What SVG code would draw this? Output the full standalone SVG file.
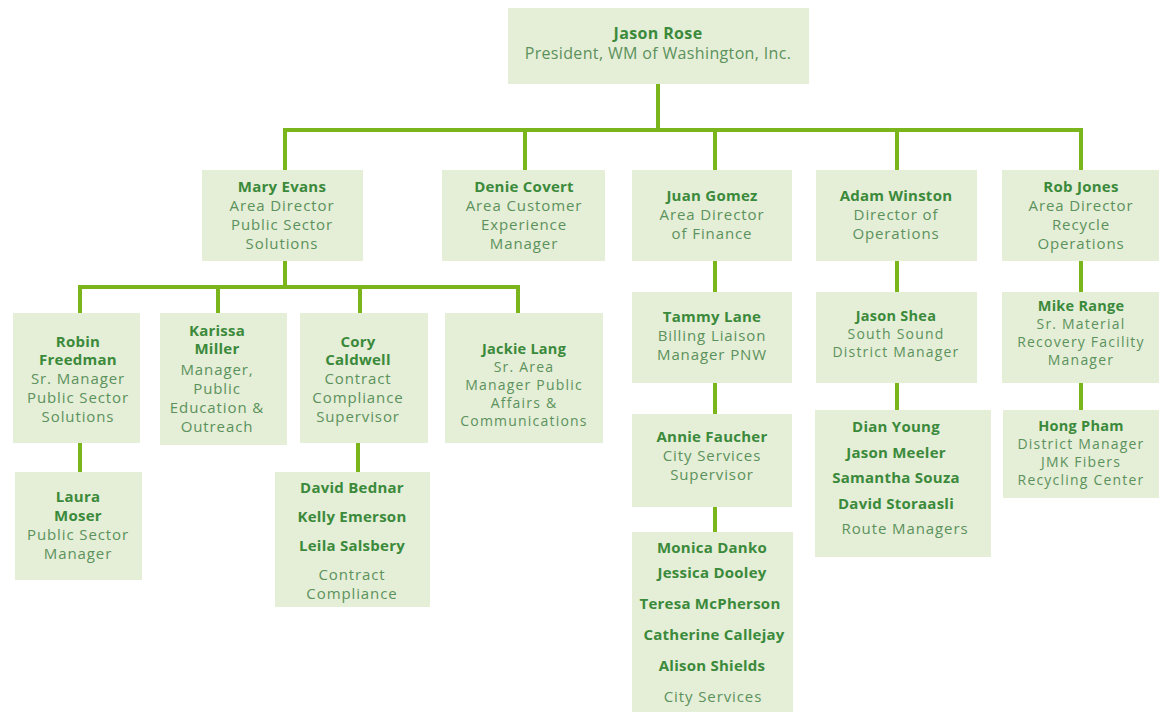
<svg xmlns="http://www.w3.org/2000/svg" width="1159" height="712" viewBox="0 0 1159 712">
<style>
.box{fill:#e5eed7}
.ln{stroke:#7ab51c;stroke-width:4;fill:none;stroke-linecap:square}
text{font-family:"Open Sans","Liberation Sans",sans-serif;font-size:15px;text-anchor:middle;dominant-baseline:central}
.n{font-weight:bold;fill:#3b8a3b;letter-spacing:0.25px}
.t{fill:#5b925c;letter-spacing:0.9px}
.big{font-size:16px;letter-spacing:0.35px}
.tight .n{font-size:14.5px}
.tight .t{font-size:14px;letter-spacing:1.2px}
</style>
<rect width="1159" height="712" fill="#ffffff"/>
<g id="connectors">
<path class="ln" d="M658 84V130M285 130H1081M285 130V170M525 130V170M715 130V170M897 130V170M1081 130V170"/>
<path class="ln" d="M285 261V287M80 287H518M80 287V313M218 287V313M360 287V313M518 287V313"/>
<path class="ln" d="M80 443V472M358 443V472"/>
<path class="ln" d="M715 261V292M715 383V414M715 507V532"/>
<path class="ln" d="M897 261V292M897 383V410"/>
<path class="ln" d="M1081 261V292M1081 383V410"/>
</g>
<g id="jason-rose"><rect class="box" x="508" y="8" width="301" height="76"/>
<text class="n big" x="658" y="33">Jason Rose</text><text class="t big" x="658" y="53">President, WM of Washington, Inc.</text></g>
<g id="mary-evans"><rect class="box" x="202" y="170" width="161" height="91"/>
<text class="n" x="282" y="186">Mary Evans</text><text class="t" x="282" y="205">Area Director</text><text class="t" x="282" y="224">Public Sector</text><text class="t" x="282" y="243">Solutions</text></g>
<g id="denie-covert"><rect class="box" x="442" y="170" width="163" height="91"/>
<text class="n" x="524" y="186">Denie Covert</text><text class="t" x="524" y="205">Area Customer</text><text class="t" x="524" y="224">Experience</text><text class="t" x="524" y="243">Manager</text></g>
<g id="juan-gomez"><rect class="box" x="632" y="170" width="160" height="91"/>
<text class="n" x="712" y="195">Juan Gomez</text><text class="t" x="712" y="214">Area Director</text><text class="t" x="712" y="233">of Finance</text></g>
<g id="adam-winston"><rect class="box" x="816" y="170" width="161" height="91"/>
<text class="n" x="896" y="195">Adam Winston</text><text class="t" x="896" y="214">Director of</text><text class="t" x="896" y="233">Operations</text></g>
<g id="rob-jones"><rect class="box" x="1002" y="170" width="157" height="91"/>
<text class="n" x="1081" y="186">Rob Jones</text><text class="t" x="1081" y="205">Area Director</text><text class="t" x="1081" y="224">Recycle</text><text class="t" x="1081" y="243">Operations</text></g>
<g id="robin-freedman"><rect class="box" x="13" y="313" width="127" height="130"/>
<text class="n" x="78" y="341">Robin</text><text class="n" x="78" y="359">Freedman</text><text class="t" x="78" y="378">Sr. Manager</text><text class="t" x="78" y="397">Public Sector</text><text class="t" x="78" y="416">Solutions</text></g>
<g id="karissa-miller"><rect class="box" x="160" y="313" width="127" height="132"/>
<text class="n" x="217" y="330">Karissa</text><text class="n" x="217" y="348">Miller</text><text class="t" x="217" y="369">Manager,</text><text class="t" x="217" y="388">Public</text><text class="t" x="217" y="407">Education &amp;</text><text class="t" x="217" y="426">Outreach</text></g>
<g id="cory-caldwell"><rect class="box" x="300" y="313" width="128" height="130"/>
<text class="n" x="358" y="341">Cory</text><text class="n" x="358" y="359">Caldwell</text><text class="t" x="358" y="378">Contract</text><text class="t" x="358" y="397">Compliance</text><text class="t" x="358" y="416">Supervisor</text></g>
<g id="jackie-lang" class="tight"><rect class="box" x="445" y="313" width="158" height="130"/>
<text class="n" x="524" y="348">Jackie Lang</text><text class="t" x="524" y="366">Sr. Area</text><text class="t" x="524" y="384">Manager Public</text><text class="t" x="524" y="402">Affairs &amp;</text><text class="t" x="524" y="420">Communications</text></g>
<g id="tammy-lane"><rect class="box" x="632" y="292" width="160" height="91"/>
<text class="n" x="712" y="316">Tammy Lane</text><text class="t" x="712" y="335">Billing Liaison</text><text class="t" x="712" y="354">Manager PNW</text></g>
<g id="jason-shea" class="tight"><rect class="box" x="816" y="292" width="161" height="91"/>
<text class="n" x="896" y="315">Jason Shea</text><text class="t" x="896" y="333">South Sound</text><text class="t" x="896" y="351">District Manager</text></g>
<g id="mike-range" class="tight"><rect class="box" x="1002" y="292" width="157" height="91"/>
<text class="n" x="1081" y="305">Mike Range</text><text class="t" x="1081" y="323">Sr. Material</text><text class="t" x="1081" y="341">Recovery Facility</text><text class="t" x="1081" y="359">Manager</text></g>
<g id="laura-moser"><rect class="box" x="15" y="472" width="127" height="108"/>
<text class="n" x="78" y="496">Laura</text><text class="n" x="78" y="515">Moser</text><text class="t" x="78" y="534">Public Sector</text><text class="t" x="78" y="553">Manager</text></g>
<g id="contract-compliance"><rect class="box" x="275" y="472" width="155" height="135"/>
<text class="n" x="352" y="487">David Bednar</text><text class="n" x="352" y="516">Kelly Emerson</text><text class="n" x="352" y="545">Leila Salsbery</text><text class="t" x="352" y="574">Contract</text><text class="t" x="352" y="593">Compliance</text></g>
<g id="annie-faucher"><rect class="box" x="632" y="414" width="160" height="93"/>
<text class="n" x="712" y="436">Annie Faucher</text><text class="t" x="712" y="455">City Services</text><text class="t" x="712" y="474">Supervisor</text></g>
<g id="route-managers"><rect class="box" x="815" y="410" width="176" height="147"/>
<text class="n" x="896" y="426">Dian Young</text><text class="n" x="896" y="452">Jason Meeler</text><text class="n" x="896" y="477">Samantha Souza</text><text class="n" x="896" y="503">David Storaasli</text><text class="t" x="905" y="528">Route Managers</text></g>
<g id="hong-pham" class="tight"><rect class="box" x="1003" y="410" width="156" height="88"/>
<text class="n" x="1081" y="425">Hong Pham</text><text class="t" x="1081" y="443">District Manager</text><text class="t" x="1081" y="461">JMK Fibers</text><text class="t" x="1081" y="479">Recycling Center</text></g>
<g id="city-services"><rect class="box" x="632" y="532" width="161" height="180"/>
<text class="n" x="712" y="547">Monica Danko</text><text class="n" x="712" y="572">Jessica Dooley</text><text class="n" x="710" y="603">Teresa McPherson</text><text class="n" x="714" y="634">Catherine Callejay</text><text class="n" x="712" y="665">Alison Shields</text><text class="t" x="713" y="696">City Services</text></g>
</svg>
